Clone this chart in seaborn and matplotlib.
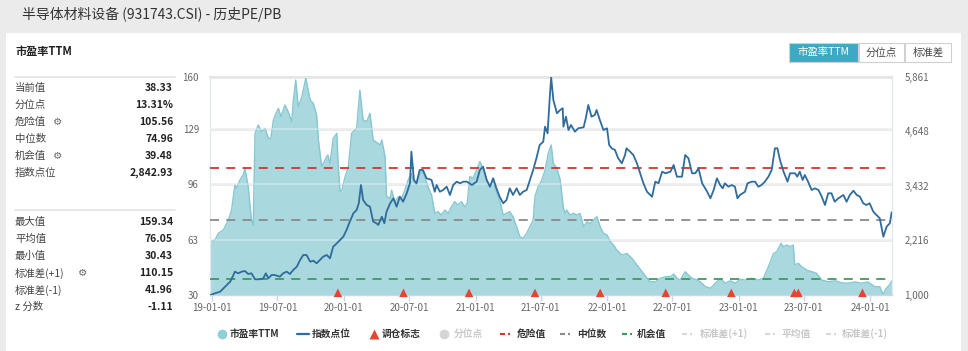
import matplotlib
matplotlib.use("Agg")
import matplotlib.pyplot as plt
import matplotlib.dates as mdates
from matplotlib.patches import Rectangle
import numpy as np
import pandas as pd
import seaborn as sns

# ---------------- data ----------------
title = "半导体材料设备 (931743.CSI) - 历史PE/PB"
panel_title = "市盈率TTM"

pe_dates = [
    "2018-12-27", "2019-01-09", "2019-01-18", "2019-02-01", "2019-02-15", "2019-02-24", "2019-03-05", "2019-03-10", "2019-03-19", "2019-03-28",
    "2019-04-02", "2019-04-06", "2019-04-11", "2019-04-20", "2019-04-25", "2019-04-30", "2019-05-09", "2019-05-18", "2019-05-28", "2019-06-06",
    "2019-06-13", "2019-06-20", "2019-06-29", "2019-07-04", "2019-07-11", "2019-07-22", "2019-07-31", "2019-08-10", "2019-08-14", "2019-08-21",
    "2019-08-28", "2019-09-07", "2019-09-18", "2019-09-30", "2019-10-09", "2019-10-18", "2019-10-23", "2019-11-01", "2019-11-10", "2019-11-18",
    "2019-11-24", "2019-12-03", "2019-12-13", "2019-12-17", "2019-12-22", "2019-12-27", "2020-01-05", "2020-01-14", "2020-01-23", "2020-02-06",
    "2020-02-15", "2020-02-24", "2020-03-05", "2020-03-14", "2020-03-23", "2020-04-11", "2020-04-16", "2020-04-25", "2020-04-29", "2020-05-09",
    "2020-05-13", "2020-05-22", "2020-06-01", "2020-06-10", "2020-06-19", "2020-06-28", "2020-07-07", "2020-07-12", "2020-07-21", "2020-08-04",
    "2020-08-13", "2020-08-22", "2020-09-01", "2020-09-10", "2020-09-19", "2020-09-28", "2020-10-08", "2020-10-17", "2020-10-26", "2020-11-04",
    "2020-11-13", "2020-11-23", "2020-12-02", "2020-12-09", "2020-12-16", "2020-12-25", "2021-01-04", "2021-01-13", "2021-01-22", "2021-02-01",
    "2021-02-10", "2021-02-19", "2021-02-28", "2021-03-09", "2021-03-19", "2021-03-28", "2021-04-06", "2021-04-15", "2021-04-25", "2021-05-04",
    "2021-05-13", "2021-05-23", "2021-06-01", "2021-06-10", "2021-06-15", "2021-06-24", "2021-07-04", "2021-07-13", "2021-07-22", "2021-07-30",
    "2021-08-05", "2021-08-15", "2021-08-24", "2021-09-02", "2021-09-07", "2021-09-11", "2021-09-20", "2021-09-30", "2021-10-09", "2021-10-18",
    "2021-10-28", "2021-11-06", "2021-11-15", "2021-11-24", "2021-12-04", "2021-12-13", "2021-12-22", "2022-01-01", "2022-01-10", "2022-01-19",
    "2022-01-28", "2022-02-11", "2022-02-25", "2022-03-11", "2022-03-25", "2022-04-08", "2022-04-22", "2022-05-01", "2022-05-15", "2022-05-29",
    "2022-06-12", "2022-06-26", "2022-07-05", "2022-07-14", "2022-07-23", "2022-08-06", "2022-08-15", "2022-08-25", "2022-09-08", "2022-09-17",
    "2022-10-01", "2022-10-15", "2022-10-24", "2022-11-07", "2022-11-14", "2022-11-25", "2022-12-09", "2022-12-23", "2023-01-06", "2023-01-20",
    "2023-02-07", "2023-02-25", "2023-03-11", "2023-03-25", "2023-04-08", "2023-04-17", "2023-04-29", "2023-05-05", "2023-05-15", "2023-05-24",
    "2023-06-02", "2023-06-06", "2023-06-16", "2023-06-25", "2023-07-09", "2023-07-23", "2023-08-06", "2023-08-20", "2023-09-07", "2023-09-26",
    "2023-10-14", "2023-11-01", "2023-11-20", "2023-12-08", "2023-12-26", "2024-01-14", "2024-01-28", "2024-02-06", "2024-02-15", "2024-02-24",
    "2024-03-01",
]
pe_values = [
    61.8, 62.8, 66.8, 68.8, 74.7, 80.7, 95.6, 93.6, 98.6, 101.6,
    105.5, 100.6, 94.6, 74.7, 71.7, 126.4, 131.4, 127.4, 129.4, 123.4,
    123.4, 134.4, 139.3, 141.3, 136.3, 143.3, 139.3, 133.4, 145.3, 158.2,
    142.3, 148.3, 159.34, 146.3, 144.3, 137.3, 122.4, 106.5, 110.5, 113.5,
    108.5, 123.4, 126.4, 106.5, 91.6, 92.6, 100.6, 106.5, 126.4, 129.4,
    152.2, 134.4, 133.4, 138.3, 122.4, 119.5, 122.4, 112.5, 88.8, 87.6,
    92.6, 85.7, 88.6, 87.6, 92.6, 98.6, 102.6, 98.6, 95.6, 104.5,
    100.6, 94.6, 89.6, 78.7, 79.7, 77.7, 80.7, 78.7, 82.6, 85.7,
    83.7, 85.7, 82.6, 84.7, 100.6, 99.6, 104.5, 109.5, 105.5, 98.6,
    94.6, 98.6, 91.6, 86.6, 77.7, 78.7, 79.7, 76.7, 70.7, 64.8,
    63.8, 66.8, 70.7, 74.7, 88.8, 94.6, 98.6, 104.5, 114.5, 119.5,
    108.5, 105.5, 98.6, 81.7, 78.7, 80.7, 77.7, 78.7, 77.7, 78.7,
    70.7, 73.7, 72.7, 74.7, 76.7, 70.7, 66.8, 65.8, 61.8, 59.8,
    56.8, 53.9, 54.8, 51.9, 47.9, 43.9, 40.0, 37.9, 37.9, 40.0,
    40.9, 40.9, 42.5, 40.0, 38.9, 43.9, 41.9, 40.0, 38.9, 37.9,
    35.0, 34.0, 36.0, 38.9, 39.5, 37.0, 38.5, 37.0, 39.4, 38.9,
    40.0, 38.9, 40.0, 46.9, 54.8, 55.8, 60.8, 58.8, 59.8, 58.8,
    59.8, 47.9, 48.9, 46.9, 44.9, 43.9, 42.9, 38.9, 37.9, 38.5,
    37.3, 37.0, 37.8, 37.0, 37.8, 35.0, 35.0, 30.43, 34.0, 36.0,
    38.33,
]

idx_dates = [
    "2018-12-27", "2019-01-09", "2019-01-23", "2019-02-06", "2019-02-20", "2019-03-01", "2019-03-05", "2019-03-14", "2019-03-24", "2019-04-02",
    "2019-04-11", "2019-04-20", "2019-04-30", "2019-05-14", "2019-05-23", "2019-05-30", "2019-06-06", "2019-06-15", "2019-06-24", "2019-07-08",
    "2019-07-17", "2019-07-27", "2019-08-05", "2019-08-14", "2019-08-24", "2019-09-02", "2019-09-11", "2019-09-20", "2019-09-30", "2019-10-09",
    "2019-10-18", "2019-10-27", "2019-11-05", "2019-11-15", "2019-11-24", "2019-12-03", "2019-12-13", "2019-12-22", "2019-12-31", "2020-01-09",
    "2020-01-18", "2020-01-28", "2020-02-06", "2020-02-12", "2020-02-18", "2020-02-24", "2020-03-05", "2020-03-14", "2020-03-23", "2020-04-01",
    "2020-04-06", "2020-04-16", "2020-04-23", "2020-04-29", "2020-05-09", "2020-05-18", "2020-05-27", "2020-06-05", "2020-06-14", "2020-06-24",
    "2020-07-03", "2020-07-07", "2020-07-14", "2020-07-21", "2020-07-30", "2020-08-08", "2020-08-18", "2020-09-01", "2020-09-10", "2020-09-15",
    "2020-09-24", "2020-10-03", "2020-10-13", "2020-10-22", "2020-10-31", "2020-11-10", "2020-11-19", "2020-11-28", "2020-12-08", "2020-12-22",
    "2021-01-04", "2021-01-13", "2021-01-22", "2021-02-01", "2021-02-10", "2021-02-19", "2021-02-28", "2021-03-09", "2021-03-19", "2021-03-28",
    "2021-04-06", "2021-04-15", "2021-04-25", "2021-05-04", "2021-05-13", "2021-05-23", "2021-06-01", "2021-06-10", "2021-06-19", "2021-06-28",
    "2021-07-08", "2021-07-13", "2021-07-20", "2021-07-26", "2021-07-30", "2021-08-05", "2021-08-15", "2021-08-24", "2021-08-31", "2021-09-02",
    "2021-09-09", "2021-09-16", "2021-09-23", "2021-10-04", "2021-10-13", "2021-10-28", "2021-11-03", "2021-11-10", "2021-11-19", "2021-11-28",
    "2021-12-03", "2021-12-12", "2021-12-22", "2022-01-01", "2022-01-07", "2022-01-14", "2022-01-23", "2022-02-01", "2022-02-11", "2022-02-20",
    "2022-02-24", "2022-03-06", "2022-03-15", "2022-03-25", "2022-04-03", "2022-04-12", "2022-04-22", "2022-05-06", "2022-05-15", "2022-05-24",
    "2022-06-03", "2022-06-12", "2022-06-26", "2022-07-05", "2022-07-14", "2022-07-28", "2022-08-06", "2022-08-15", "2022-08-25", "2022-09-03",
    "2022-09-12", "2022-09-22", "2022-10-06", "2022-10-15", "2022-10-24", "2022-11-02", "2022-11-11", "2022-11-18", "2022-11-24", "2022-12-04",
    "2022-12-13", "2022-12-22", "2022-12-29", "2023-01-05", "2023-01-19", "2023-01-26", "2023-02-07", "2023-02-16", "2023-02-25", "2023-03-06",
    "2023-03-15", "2023-03-25", "2023-04-03", "2023-04-12", "2023-04-19", "2023-04-26", "2023-05-06", "2023-05-17", "2023-05-24", "2023-06-07",
    "2023-06-13", "2023-06-20", "2023-06-28", "2023-07-04", "2023-07-13", "2023-07-23", "2023-08-01", "2023-08-11", "2023-08-20", "2023-08-29",
    "2023-09-07", "2023-09-16", "2023-09-25", "2023-10-05", "2023-10-19", "2023-10-28", "2023-11-06", "2023-11-16", "2023-11-25", "2023-12-04",
    "2023-12-13", "2023-12-22", "2023-12-31", "2024-01-10", "2024-01-19", "2024-01-28", "2024-02-07", "2024-02-16", "2024-02-25", "2024-03-01",
]
idx_values = [
    1000, 1038, 1074, 1185, 1297, 1446, 1520, 1484, 1520, 1535,
    1468, 1484, 1350, 1350, 1372, 1484, 1372, 1446, 1446, 1408,
    1484, 1520, 1468, 1558, 1631, 1780, 1892, 1892, 1743, 1765,
    1707, 1780, 1854, 1892, 1818, 2077, 2153, 2227, 2300, 2450,
    2635, 2822, 2896, 3045, 3453, 3118, 3007, 2969, 2635, 2599,
    2561, 2746, 2599, 2858, 3045, 3156, 2969, 3192, 3080, 3268,
    3491, 4196, 3565, 3491, 3788, 3788, 3603, 3565, 3303, 3453,
    3303, 3341, 3415, 3230, 3453, 3527, 3491, 3527, 3527, 3453,
    3527, 3788, 3861, 3565, 3415, 3603, 3379, 3192, 3045, 3118,
    3379, 3230, 3379, 3230, 3303, 3341, 3565, 3788, 4048, 4344,
    4418, 4753, 4605, 5400, 5850, 5349, 5052, 5126, 5163, 4753,
    4976, 4679, 4791, 4642, 4717, 4740, 4940, 5237, 4976, 5014,
    5126, 4903, 4679, 4717, 4345, 4271, 4234, 4048, 3937, 4122,
    4271, 4196, 4122, 3937, 3714, 3491, 3303, 3192, 3527, 3491,
    3750, 3714, 3750, 3899, 3638, 3638, 4122, 4048, 3714, 3714,
    3825, 3491, 3303, 3156, 3341, 3602, 3453, 3379, 3491, 3415,
    3453, 3415, 3156, 3230, 3303, 3491, 3527, 3527, 3415, 3453,
    3527, 3638, 3788, 4271, 4271, 4011, 3750, 3527, 3714, 3714,
    3638, 3750, 3565, 3676, 3527, 3341, 3379, 3341, 3192, 3007,
    3268, 3268, 3080, 3156, 3230, 3080, 3230, 3326, 3230, 3192,
    3045, 3007, 3045, 2858, 2784, 2710, 2300, 2523, 2599, 2842.93,
]

rebalance_dates = ["2019-12-16", "2020-06-15", "2020-12-14", "2021-06-15", "2021-12-13",
                   "2022-06-13", "2022-12-12", "2023-06-05", "2023-06-16", "2023-12-11"]

danger_value = 105.56
median_value = 74.96
chance_value = 39.48

stats_top_labels = ["当前值", "分位点", "危险值", "中位数", "机会值", "指数点位"]
stats_top_values = ["38.33", "13.31%", "105.56", "74.96", "39.48", "2,842.93"]
stats_top_gear = [False, False, True, False, True, False]
stats_bot_labels = ["最大值", "平均值", "最小值", "标准差(+1)", "标准差(-1)", "z 分数"]
stats_bot_values = ["159.34", "76.05", "30.43", "110.15", "41.96", "-1.11"]
stats_bot_gear = [False, False, False, True, False, False]

left_ticks = [30, 63, 96, 129, 160]
right_ticks = [1000, 2216, 3432, 4648, 5861]
x_ticks = ["2019-01-01", "2019-07-01", "2020-01-01", "2020-07-01", "2021-01-01", "2021-07-01",
           "2022-01-01", "2022-07-01", "2023-01-01", "2023-07-01", "2024-01-01"]

buttons = ["市盈率TTM", "分位点", "标准差"]
legend_items = ["市盈率TTM", "指数点位", "调仓标志", "分位点", "危险值", "中位数", "机会值",
                "标准差(+1)", "平均值", "标准差(-1)"]

# ---------------- style ----------------
sns.set_theme(style="white")
plt.rcParams['font.family'] = ['Noto Sans CJK SC', 'DejaVu Sans']

C_FILL = "#a9d8de"
C_EDGE = "#86c7d1"
C_IDX = "#2f6c9c"
C_RED = "#d2362e"
C_GRAY = "#8a8a8a"
C_GREEN = "#3d9a5c"
C_TRI = "#e8432e"
C_LIGHT = "#c8c8c8"
C_TXT = "#333333"
C_TICK = "#666666"

W, H = 968, 351
fig = plt.figure(figsize=(W / 100, H / 100), dpi=100, facecolor="#ebebeb")

# decoration layer in pixel coordinates
deco = fig.add_axes([0, 0, 1, 1])
deco.set_xlim(0, W)
deco.set_ylim(H, 0)
deco.axis("off")
deco.set_zorder(-1)
deco.add_patch(Rectangle((6, 33), 955, 320, facecolor="white", edgecolor="none"))
deco.text(22, 14, title, fontsize=10, color="#333333", va="center", ha="left")
deco.text(15, 52, panel_title, fontsize=8, fontweight="bold", color="#222222", va="center")

# stats table
deco.plot([15, 175], [77, 77], color="#e3e3e3", lw=1.2)
for i, (lab, val, g) in enumerate(zip(stats_top_labels, stats_top_values, stats_top_gear)):
    y = 88 + i * 17
    deco.text(15, y, lab, fontsize=7.5, color="#444444", va="center")
    if g:
        deco.text(15 + 11.2 * len(lab) + 4, y, "⚙", fontsize=7.5, color="#666666", va="center",
                  family=["DejaVu Sans"])
    deco.text(173, y, val, fontsize=7.5, fontweight="bold", color="#222222", va="center", ha="right")
deco.plot([15, 175], [210, 210], color="#e3e3e3", lw=1.2)
for i, (lab, val, g) in enumerate(zip(stats_bot_labels, stats_bot_values, stats_bot_gear)):
    y = 222 + i * 17
    deco.text(15, y, lab, fontsize=7.5, color="#444444", va="center")
    if g:
        deco.text(78, y, "⚙", fontsize=7.5, color="#666666", va="center", family=["DejaVu Sans"])
    deco.text(173, y, val, fontsize=7.5, fontweight="bold", color="#222222", va="center", ha="right")

# buttons
btn_x = [(789, 69), (859, 45), (905, 46)]
for k, (name, (bx, bw)) in enumerate(zip(buttons, btn_x)):
    fc = "#3fa9c3" if k == 0 else "white"
    deco.add_patch(Rectangle((bx, 43), bw, 19, facecolor=fc, edgecolor="#d0d0d0", lw=0.8))
    deco.text(bx + bw / 2, 52.5, name, fontsize=7.5, color="white" if k == 0 else "#444444",
              ha="center", va="center")

# legend
ly = 334
leg_pos = [222, 303, 374, 444, 506, 566, 628, 688, 771, 832]
leg_txt = [230, 312, 382, 454, 517, 577, 637, 700, 782, 842]
leg_active = [True, True, True, False, True, True, True, False, False, False]
for k, (name, px, tx, act) in enumerate(zip(legend_items, leg_pos, leg_txt, leg_active)):
    col = C_TXT if act else C_LIGHT
    if k == 0:
        deco.plot([px], [ly], marker="o", ms=7, color="#8fcfd8", mec="none")
    elif k == 1:
        deco.plot([px - 6, px + 6], [ly, ly], color=C_IDX, lw=1.6)
    elif k == 2:
        deco.plot([px], [ly], marker="^", ms=6.5, color=C_TRI, mec="none")
    elif k == 3:
        deco.plot([px], [ly], marker="o", ms=7, color="#d5d5d5", mec="none")
    else:
        lc = {4: C_RED, 5: C_GRAY, 6: C_GREEN}.get(k, "#d8d8d8")
        deco.plot([px - 6, px - 1], [ly, ly], color=lc, lw=1.5, solid_capstyle="butt")
        deco.plot([px + 2, px + 4], [ly, ly], color=lc, lw=1.5, solid_capstyle="butt")
    deco.text(tx, ly, name, fontsize=7, fontweight="bold", color=col, va="center", ha="left")

# ---------------- main chart ----------------
pe_df = pd.DataFrame({"date": pd.to_datetime(pe_dates), "pe": pe_values})
idx_df = pd.DataFrame({"date": pd.to_datetime(idx_dates), "idx": idx_values})
reb = pd.to_datetime(rebalance_dates)

L, R, T, B = 210, 892, 77, 295
ax = fig.add_axes([L / W, 1 - B / H, (R - L) / W, (B - T) / H])
ax.set_facecolor("white")

for yv in left_ticks[1:]:
    ax.axhline(yv, color="#e8e8e8", lw=2.0, zorder=0.5)

ax.fill_between(pe_df["date"], left_ticks[0], pe_df["pe"], color=C_FILL, lw=0, zorder=1)
sns.lineplot(data=pe_df, x="date", y="pe", ax=ax, color=C_EDGE, lw=1.0, zorder=2)

for yv in left_ticks[1:-1]:
    ax.axhline(yv, color="#ffffff", lw=1.5, alpha=0.3, zorder=3)

dash = (0, (5, 4))
ax.axhline(danger_value, color=C_RED, ls=dash, lw=1.3, zorder=4)
ax.axhline(median_value, color=C_GRAY, ls=dash, lw=1.3, zorder=4)
ax.axhline(chance_value, color=C_GREEN, ls=dash, lw=1.3, zorder=4)

ax.scatter(reb, [31.3] * len(reb), marker="^", s=38, color=C_TRI, edgecolor="none",
           zorder=6, clip_on=False)

ax.set_xlim(pd.Timestamp("2018-12-26"), pd.Timestamp("2024-03-02"))
ax.set_ylim(left_ticks[0], left_ticks[-1])
ax.set_yticks(left_ticks)
ax.set_yticklabels([str(v) for v in left_ticks])
ax.set_xticks(pd.to_datetime(x_ticks))
ax.xaxis.set_major_formatter(mdates.DateFormatter("%y-%m-%d"))
ax.tick_params(axis="x", length=4, width=1, color="#ccd6eb", labelsize=7, labelcolor=C_TICK, pad=2,
               bottom=True)
ax.tick_params(axis="y", length=0, labelsize=7, labelcolor=C_TICK, pad=8)
ax.set_xlabel("")
ax.set_ylabel("")
for s in ["left", "right"]:
    ax.spines[s].set_color("#e3e8ee")
    ax.spines[s].set_linewidth(1)
ax.spines["top"].set_color("#e6e6e6")
ax.spines["top"].set_linewidth(1.5)
ax.spines["bottom"].set_color("#ccd6eb")
ax.spines["bottom"].set_linewidth(1)
ax.grid(False)

ax2 = ax.twinx()
sns.lineplot(data=idx_df, x="date", y="idx", ax=ax2, color=C_IDX, lw=1.3)
ax2.set_ylim(right_ticks[0], right_ticks[-1])
ax2.set_yticks(right_ticks)
ax2.set_yticklabels([f"{v:,}" for v in right_ticks])
ax2.tick_params(axis="y", length=0, labelsize=7, labelcolor=C_TICK, pad=9)
ax2.set_ylabel("")
ax2.set_xlabel("")
for s in ax2.spines.values():
    s.set_visible(False)
ax2.grid(False)

fig.savefig("out.png", dpi=100, facecolor=fig.get_facecolor())
